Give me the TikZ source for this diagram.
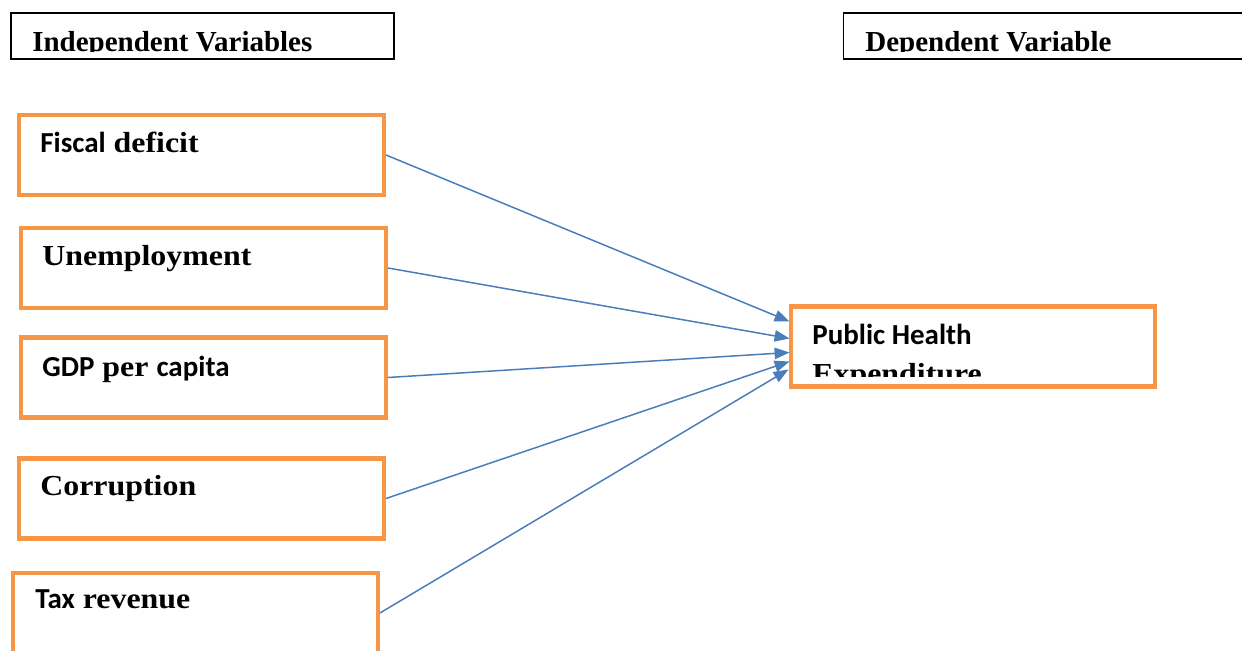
\documentclass[tikz,border=0pt]{standalone}
\usepackage{fontspec}
\setmainfont{Liberation Serif}
\newfontfamily\calib{Carlito}
\newfontfamily\camb[FakeStretch=1.1]{Liberation Serif}
\usetikzlibrary{arrows.meta,calc}
\definecolor{boxorange}{HTML}{F79646}
\definecolor{arrowblue}{HTML}{4A7EBB}

\begin{document}
\begin{tikzpicture}[
    x=0.02cm, y=-0.02cm,
    header/.style={draw, line width=1pt, minimum width=7.66cm, minimum height=0.92cm, inner sep=0},
    headtext/.style={anchor=base west, inner sep=0, font=\bfseries\fontsize{16.5}{20}\selectfont},
    varbox/.style={draw=boxorange, line width=2.3pt, minimum width=7.3cm, minimum height=1.6cm, inner sep=0},
    lbl/.style={anchor=base west, inner sep=0, font=\camb\bfseries\fontsize{16.5}{20}\selectfont},
    edge/.style={draw=arrowblue, line width=0.85pt, -{Triangle[length=8.5pt, width=6.5pt]}}
]
\useasboundingbox (0,0) rectangle (1242,651);

% Define header boxes
\node[header] (indep) at (202.5,36) {};
\node[header, minimum width=8.06cm] (dep) at (1045,36) {};
\begin{scope}
\clip (indep.north west) rectangle ($(indep.south east)+(0,-8)$);
\node[headtext] (indeptxt) at (32,51.5) {Independent Variables};
\end{scope}
\begin{scope}
\clip (dep.north west) rectangle ($(dep.south east)+(0,-8)$);
\node[headtext] (deptxt) at (865,51.5) {Dependent Variable};
\end{scope}

% Define variable boxes
\node[varbox] (fiscal) at (201.5,155) {};
\node[varbox] (unemp) at (203.5,268) {};
\node[varbox] (gdp) at (203.5,377.5) {};
\node[varbox] (corrupt) at (201.5,498.5) {};
\node[varbox] (tax) at (195.5,613) {};
\node[varbox] (phe) at (973,346.5) {};

% Box labels
\node[lbl] (fiscaltxt) at (40,153) {{\calib Fiscal} deficit};
\node[lbl] (unemptxt) at (42,266) {Unemployment};
\node[lbl] (gdptxt) at (42,377) {{\calib GDP} per {\calib capita}};
\node[lbl] (corrupttxt) at (40,496) {Corruption};
\node[lbl] (taxtxt) at (35,609) {{\calib Tax} revenue};
\node[lbl] (phetxt) at (812,345) {\calib Public Health};
\begin{scope}
\clip (phe.north west) rectangle ($(phe.south east)+(0,-12)$);
\node[lbl] (phetxt2) at (812,384) {Expenditure};
\end{scope}

% Arrow end points
\coordinate (in1) at ($(phe.north west)+(1,17)$);
\coordinate (in2) at ($(phe.north west)+(1,34)$);
\coordinate (in3) at ($(phe.north west)+(1,48)$);
\coordinate (in4) at ($(phe.north west)+(1,57)$);
\coordinate (in5) at ($(phe.north west)+(0,65)$);

% Define edges
\draw[edge] (fiscal.east) -- (in1);
\draw[edge] (unemp.east) -- (in2);
\draw[edge] (gdp.east) -- (in3);
\draw[edge] (corrupt.east) -- (in4);
\draw[edge] (tax.east) -- (in5);

\end{tikzpicture}
\end{document}
